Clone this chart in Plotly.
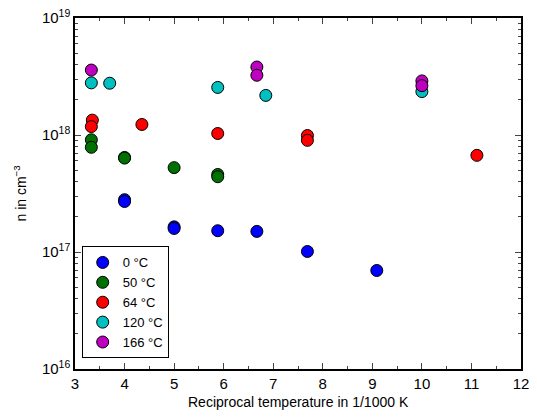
import plotly.graph_objects as go

labels = ["0 °C", "50 °C", "64 °C", "120 °C", "166 °C"]
colors = ["#0000ff", "#007000", "#ff0000", "#00c0c0", "#c000c0"]
xs = [
    [4.0, 4.0, 5.0, 5.0, 5.88, 6.67, 7.69, 9.09],
    [3.33, 3.33, 4.0, 4.0, 5.0, 5.88, 5.88],
    [3.35, 3.33, 4.35, 5.88, 7.69, 7.69, 11.11],
    [3.33, 3.70, 5.88, 6.85, 10.0],
    [3.33, 6.67, 6.67, 10.0, 10.0],
]
ys = [
    [2.8e17, 2.7e17, 1.64e17, 1.59e17, 1.52e17, 1.5e17, 1.01e17, 6.95e16],
    [9.1e17, 7.85e17, 6.43e17, 6.35e17, 5.26e17, 4.6e17, 4.4e17],
    [1.34e18, 1.18e18, 1.23e18, 1.03e18, 0.99e18, 0.9e18, 6.7e17],
    [2.79e18, 2.77e18, 2.55e18, 2.18e18, 2.35e18],
    [3.59e18, 3.81e18, 3.24e18, 2.9e18, 2.64e18],
]
ytickvals = [1e16, 1e17, 1e18, 1e19]
yticktext = ["10<sup>16</sup>", "10<sup>17</sup>", "10<sup>18</sup>", "10<sup>19</sup>"]
xtitle = "Reciprocal temperature in 1/1000 K"
ytitle = "n in cm<sup>−3</sup>"

fig = go.Figure()
for lab, c, x, y in zip(labels, colors, xs, ys):
    fig.add_trace(go.Scatter(x=x, y=y, mode="markers", name=lab,
                             marker=dict(size=12, color=c, line=dict(color="black", width=1))))

fnt = dict(family="Liberation Sans, Arial", size=15, color="black")
fig.update_layout(
    width=521, height=403, margin=dict(l=67, r=8, t=10, b=42),
    paper_bgcolor="white", plot_bgcolor="white", font=fnt,
    showlegend=True,
    legend=dict(x=0.015, y=0.03, xanchor="left", yanchor="bottom",
                bordercolor="black", borderwidth=1, bgcolor="white",
                font=dict(family="Liberation Sans, Arial", size=13), itemwidth=30,
                tracegroupgap=0),
    xaxis=dict(range=[3, 12], dtick=1, ticks="inside", ticklen=6, mirror="allticks",
               automargin=False, ticklabeloverflow="allow",
               showline=True, linecolor="black", linewidth=1.5, showgrid=False, zeroline=False,
               minor=dict(ticks="inside", ticklen=3, dtick=0.5)),
    yaxis=dict(type="log", range=[16, 19], tickvals=ytickvals, ticktext=yticktext,
               ticks="inside", ticklen=6, mirror="allticks", automargin=False,
               ticklabeloverflow="allow",
               showline=True, linecolor="black", linewidth=1.5, showgrid=False, zeroline=False,
               minor=dict(ticks="inside", ticklen=3, tickvals=[a*10**e for e in (16, 17, 18) for a in range(2, 10)])),
    annotations=[
        dict(text=xtitle, x=0.5, y=0, xref="paper", yref="paper", xanchor="center", yanchor="top",
             yshift=-23, showarrow=False, font=dict(size=14)),
        dict(text=ytitle, x=0, y=0.5, xref="paper", yref="paper", xanchor="center", yanchor="middle",
             xshift=-55, textangle=-90, showarrow=False, font=dict(size=14)),
    ],
)
fig.write_html("out.html")
